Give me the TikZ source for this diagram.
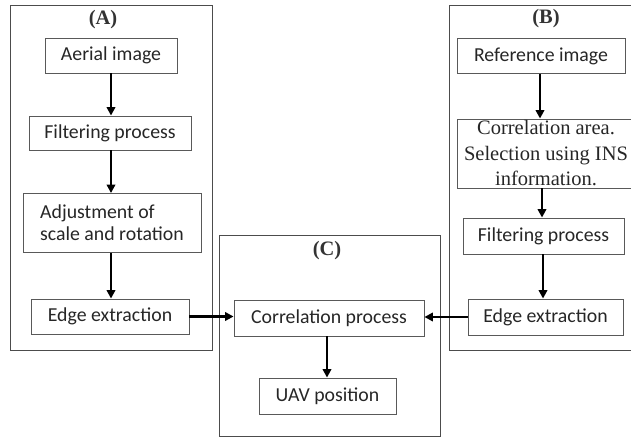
\documentclass[tikz,border=0pt]{standalone}
\usepackage{fontspec}
\setmainfont{Liberation Serif}
\newfontfamily\boxfont{Carlito}
\usetikzlibrary{arrows.meta}
\tikzset{
  proc/.style={draw=black!65, line width=0.9pt, rectangle, inner sep=0pt, font=\boxfont\fontsize{19.8}{22}\selectfont, text=black!85},
  group/.style={draw=black!70, line width=0.9pt},
  lbl/.style={font=\bfseries\fontsize{20.5}{24}\selectfont, text=black!80},
  arr/.style={line width=2.3pt, -{Triangle[length=8.5pt,width=8.5pt]}},
}
\begin{document}
\begin{tikzpicture}[x=1pt,y=-1pt]
\useasboundingbox (0,0) rectangle (631,438);
\clip (0,0) rectangle (631,438);
% group frames
\draw[group] (10,5) rectangle (212,350);
\draw[group] (449,5) rectangle (640,350);
\draw[group] (219,235) rectangle (440,436);
\node[lbl] (la) at (103,20) {(A)};
\node[lbl] (lb) at (546,18.5) {(B)};
\node[lbl] (lc) at (327,251) {(C)};
% (A)
\node[proc, minimum width=132pt, minimum height=35pt] (aer) at (111,55.5) {Aerial image};
\node[proc, minimum width=162pt, minimum height=34pt] (fa) at (110,133) {Filtering process};
\node[proc, minimum width=178pt, minimum height=59pt, align=left] (adj) at (112,223) {Adjustment of\\scale and rotation};
\node[proc, minimum width=158pt, minimum height=35pt] (ea) at (110,316.5) {Edge extraction};
% (B)
\node[proc, minimum width=168pt, minimum height=35pt] (ref) at (541,56) {Reference image};
\node[proc, minimum width=178pt, minimum height=69pt, align=center, font=\fontsize{20.5}{25.5}\selectfont] (ca) at (546,153.5) {Correlation area.\\Selection using INS\\information.};
\node[proc, minimum width=161pt, minimum height=36pt] (fb) at (543.5,236) {Filtering process};
\node[proc, minimum width=155pt, minimum height=36pt] (eb) at (545.5,317) {Edge extraction};
% (C)
\node[proc, minimum width=190pt, minimum height=36pt] (cp) at (329,318) {Correlation process};
\node[proc, minimum width=137pt, minimum height=36pt] (uav) at (327.5,396) {UAV position};
% arrows
\draw[arr] (aer.south -| 111,0) -- (fa.north -| 111,0);
\draw[arr] (fa.south -| 111,0) -- (adj.north -| 111,0);
\draw[arr] (adj.south -| 111,0) -- (ea.north -| 111,0);
\draw[arr] (ref.south -| 540,0) -- (ca.north -| 540,0);
\draw[arr] (ca.south -| 542,0) -- (fb.north -| 542,0);
\draw[arr] (fb.south -| 543,0) -- (eb.north -| 543,0);
\draw[arr] (cp.south -| 327,0) -- (uav.north -| 327,0);
\draw[arr] (ea.east) -- (ea.east -| cp.west);
\draw[arr] (eb.west) -- (eb.west -| cp.east);
\end{tikzpicture}
\end{document}
